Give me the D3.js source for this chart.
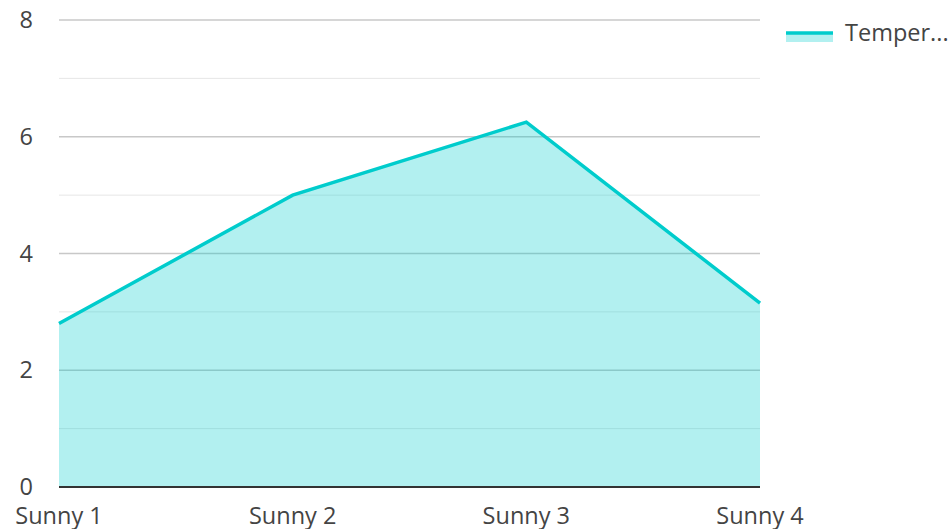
<!DOCTYPE html>
<html>
<head>
<meta charset="utf-8">
<script src="https://cdn.jsdelivr.net/npm/d3@7"></script>
<style>
  body { margin: 0; background: #fff; }
  text { font-family: "Open Sans", "Noto Sans", sans-serif; }
</style>
</head>
<body>
<div id="container"></div>
<script>
// chart data
var categories = ['Sunny 1', 'Sunny 2', 'Sunny 3', 'Sunny 4'];
var temperature = [2.8, 5.0, 6.25, 3.15];
var yTicks = [0, 2, 4, 6, 8];
var yMinor = [1, 3, 5, 7];
var seriesName = 'Temperature';

var width = 950, height = 529;
var margin = { left: 59, right: 190, top: 20, bottom: 42 };
var teal = '#00cccc';
var fontSize = 23.5;

var svg = d3.select('#container')
  .append('svg')
  .attr('width', width)
  .attr('height', height);

var x = d3.scalePoint()
  .domain(categories)
  .range([margin.left, width - margin.right]);

var y = d3.scaleLinear()
  .domain([0, 8])
  .range([height - margin.bottom, margin.top]);

// gridlines
var grid = svg.append('g');
grid.selectAll('.minor')
  .data(yMinor)
  .join('line')
  .attr('x1', margin.left).attr('x2', width - margin.right)
  .attr('y1', d => y(d)).attr('y2', d => y(d))
  .attr('stroke', '#e6e6e6').attr('stroke-width', 1);
grid.selectAll('.major')
  .data(yTicks.slice(1))
  .join('line')
  .attr('x1', margin.left).attr('x2', width - margin.right)
  .attr('y1', d => y(d)).attr('y2', d => y(d))
  .attr('stroke', '#c8c8c8').attr('stroke-width', 1.5);

// area + line
var data = categories.map((c, i) => ({ cat: c, v: temperature[i] }));

svg.append('path')
  .datum(data)
  .attr('fill', teal)
  .attr('fill-opacity', 0.3)
  .attr('d', d3.area().x(d => x(d.cat)).y0(y(0)).y1(d => y(d.v)));

svg.append('path')
  .datum(data)
  .attr('fill', 'none')
  .attr('stroke', teal)
  .attr('stroke-width', 3.5)
  .attr('stroke-linejoin', 'miter')
  .attr('d', d3.line().x(d => x(d.cat)).y(d => y(d.v)));

// baseline
svg.append('line')
  .attr('x1', margin.left).attr('x2', width - margin.right)
  .attr('y1', y(0)).attr('y2', y(0))
  .attr('stroke', '#333').attr('stroke-width', 2);

// y labels
svg.append('g').selectAll('text')
  .data(yTicks)
  .join('text')
  .attr('x', 33)
  .attr('y', d => y(d))
  .attr('dy', '0.35em')
  .attr('text-anchor', 'end')
  .attr('font-size', fontSize)
  .attr('fill', '#444')
  .text(d => d);

// x labels
svg.append('g').selectAll('text')
  .data(categories)
  .join('text')
  .attr('x', d => x(d))
  .attr('y', 524)
  .attr('text-anchor', 'middle')
  .attr('font-size', fontSize)
  .attr('fill', '#444')
  .text(d => d);

// legend
var legend = svg.append('g').attr('transform', 'translate(786,33)');
legend.append('rect')
  .attr('x', 0).attr('y', 0).attr('width', 47).attr('height', 9)
  .attr('fill', teal).attr('fill-opacity', 0.3);
legend.append('line')
  .attr('x1', 0).attr('x2', 47).attr('y1', 0).attr('y2', 0)
  .attr('stroke', teal).attr('stroke-width', 3.5);
legend.append('text')
  .attr('x', 59).attr('y', 0).attr('dy', '0.35em')
  .attr('font-size', fontSize).attr('fill', '#444')
  .text(seriesName.slice(0, 6) + '...');
</script>
</body>
</html>
